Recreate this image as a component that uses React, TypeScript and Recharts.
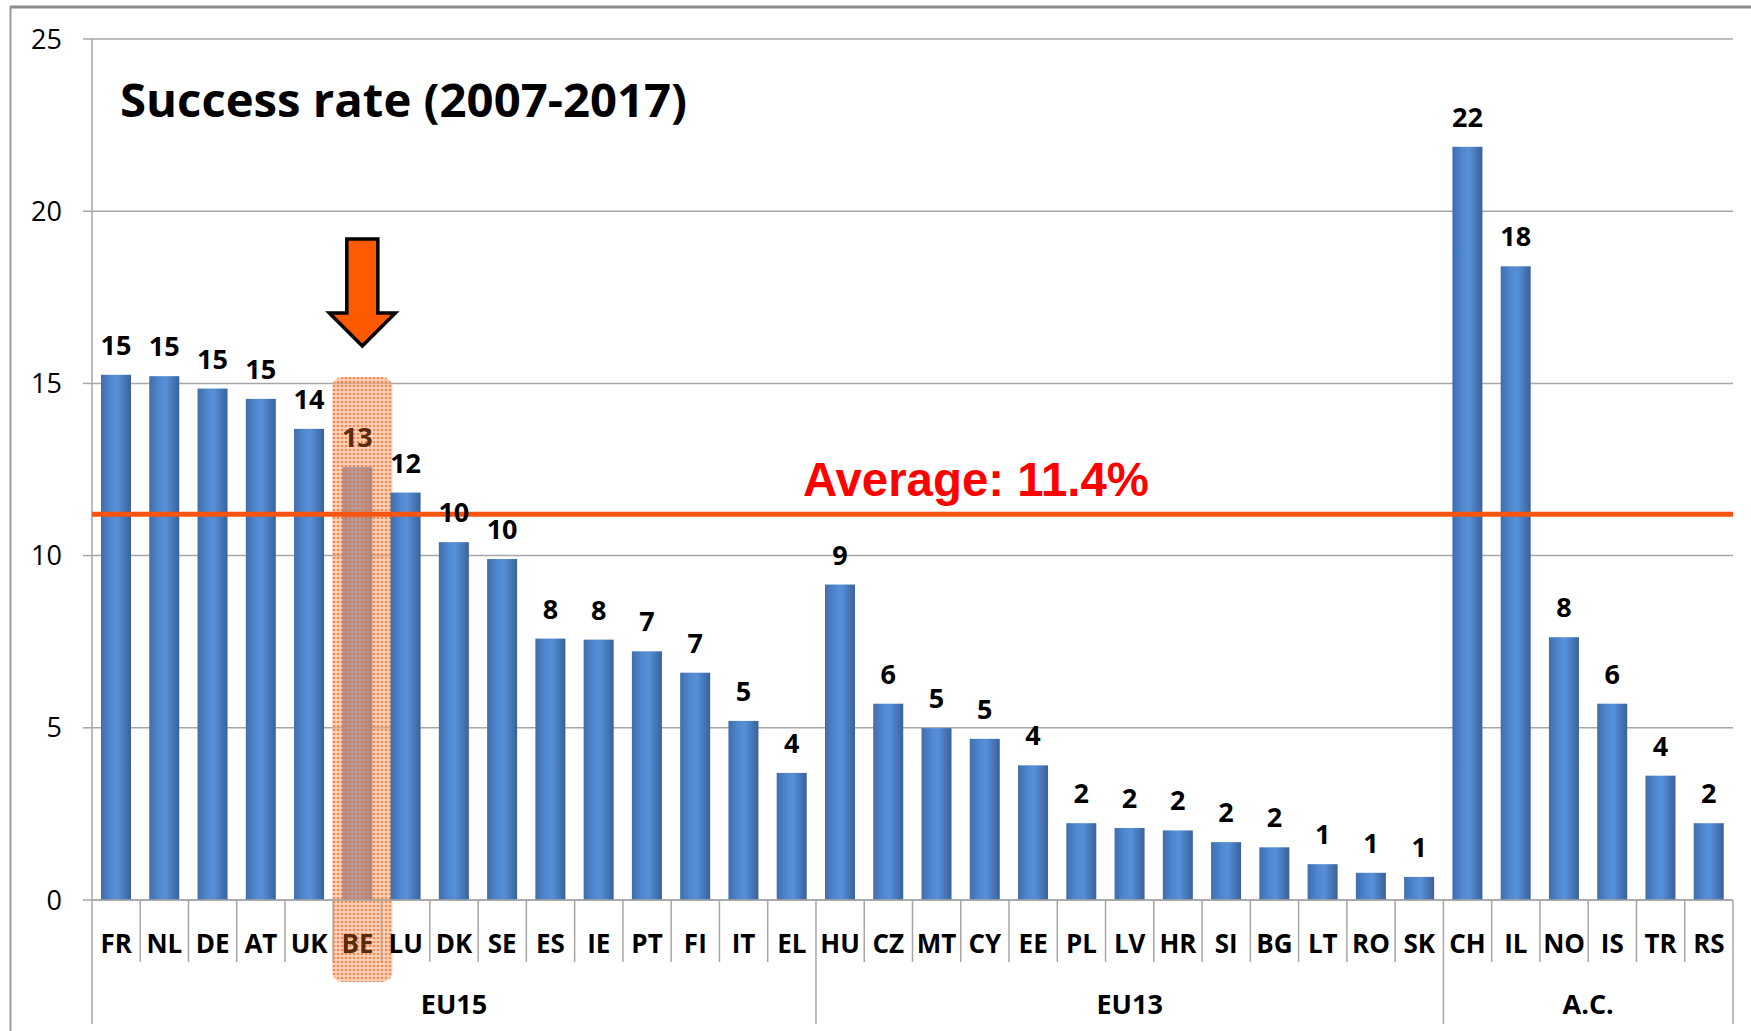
import { BarChart, Bar, XAxis, YAxis, CartesianGrid, ReferenceLine, LabelList } from "recharts";

// country codes in display order, grouped EU15 / EU13 / associated countries
const codes = [
  "FR", "NL", "DE", "AT", "UK", "BE", "LU", "DK", "SE", "ES", "IE", "PT", "FI", "IT", "EL",
  "HU", "CZ", "MT", "CY", "EE", "PL", "LV", "HR", "SI", "BG", "LT", "RO", "SK",
  "CH", "IL", "NO", "IS", "TR", "RS",
];
const rates = [
  15.25, 15.21, 14.85, 14.55, 13.68, 12.57, 11.83, 10.39, 9.9, 7.59, 7.56, 7.22, 6.6, 5.2, 3.69,
  9.16, 5.7, 4.99, 4.68, 3.91, 2.23, 2.09, 2.02, 1.68, 1.53, 1.04, 0.79, 0.67,
  21.87, 18.4, 7.63, 5.7, 3.61, 2.23,
];
const groupNames = ["EU15", "EU13", "A.C."];
const groupSizes = [15, 13, 6];
const yTicks = [0, 5, 10, 15, 20, 25];
const highlightCode = "BE";
const averageLevel = 11.2;
const averageText = "Average: 11.4%";
const titleText = "Success rate (2007-2017)";

const W = 1751;
const H = 1031;
const MARGIN = { top: 39, right: 18, left: 12, bottom: 0 };
const Y_AXIS_W = 80;
const X_AXIS_H = 131;
const BAND = (W - MARGIN.left - MARGIN.right - Y_AXIS_W) / codes.length;
const FONT = "'Open Sans', 'Noto Sans', sans-serif";
const GRID = "#a6a6a6";
const BROWN = "#5a2a0c";

const data = codes.map((code, i) => ({ code, rate: rates[i] }));

const groupStarts = groupSizes.map((_, i) => groupSizes.slice(0, i).reduce((a, b) => a + b, 0));

function CategoryTick(props: any) {
  const { x, y, payload } = props;
  const i = codes.indexOf(payload.value);
  const half = BAND / 2;
  const g = groupStarts.findIndex((s, k) => i >= s && i < s + groupSizes[k]);
  const isFirst = i === groupStarts[g];
  const isLast = i === groupStarts[g] + groupSizes[g] - 1;
  return (
    <g>
      {i === 0 && <line x1={x - half} x2={x - half} y1={y} y2={y + 124} stroke={GRID} strokeWidth={1.5} />}
      <line x1={x + half} x2={x + half} y1={y} y2={y + (isLast ? 124 : 62)} stroke={GRID} strokeWidth={1.5} />
      <text x={x} y={y + 53} textAnchor="middle" fontFamily={FONT} fontWeight={700} fontSize={26}
        fill={payload.value === highlightCode ? BROWN : "#000"}>
        {payload.value}
      </text>
      {isFirst && (
        <text x={x - half + (groupSizes[g] * BAND) / 2} y={y + 114} textAnchor="middle"
          fontFamily={FONT} fontWeight={700} fontSize={27} fill="#000">
          {groupNames[g]}
        </text>
      )}
    </g>
  );
}

function BarShape(props: any) {
  const { x, y, width, height, index } = props;
  const bar = <rect x={x} y={y} width={width} height={height} fill="url(#barGrad)" />;
  if (codes[index] !== highlightCode) return bar;
  const cx = x + width / 2 + 5;
  const base = y + height;
  const tip = y - 121;
  return (
    <g>
      {bar}
      <rect x={cx - 30} y={y - 90} width={60} height={base - y + 172} rx={10} ry={10}
        fill="url(#hlDots)" />
      <path
        d={`M${cx - 15.5},${tip - 107} L${cx + 15.5},${tip - 107} L${cx + 15.5},${tip - 33} L${cx + 33},${tip - 33} L${cx},${tip} L${cx - 33},${tip - 33} L${cx - 15.5},${tip - 33} Z`}
        fill="#ff5a00" stroke="#000" strokeWidth={3.5} strokeLinejoin="miter" />
    </g>
  );
}

function ValueLabel(props: any) {
  const vb = props.viewBox || props;
  const cx = vb.x + vb.width / 2;
  const code = codes[props.index];
  return (
    <text x={cx} y={vb.y - 20} textAnchor="middle" fontFamily={FONT} fontWeight={700} fontSize={27}
      fill={code === highlightCode ? BROWN : "#000"}>
      {Math.round(Number(props.value))}
    </text>
  );
}

function AverageLabel(props: any) {
  const vb = props.viewBox;
  return (
    <text x={vb.x + 711} y={vb.y - 18} fontFamily="'Liberation Sans', Arial, sans-serif" fontWeight={700}
      fontSize={48} fill="#ff0000" textLength={346} lengthAdjust="spacingAndGlyphs">
      {averageText}
    </text>
  );
}

export default function App() {
  return (
    <div style={{ position: "absolute", left: 0, top: 0, width: W, height: H, background: "#fff" }}>
      <BarChart width={W} height={H} data={data} margin={MARGIN} barSize={30}>
        <defs>
          <linearGradient id="barGrad" x1="0" y1="0" x2="1" y2="0">
            <stop offset="0%" stopColor="#3f6ead" />
            <stop offset="35%" stopColor="#5189d1" />
            <stop offset="55%" stopColor="#5690d8" />
            <stop offset="100%" stopColor="#3a619a" />
          </linearGradient>
          <pattern id="hlDots" width="4" height="4" patternUnits="userSpaceOnUse">
            <rect width="4" height="4" fill="#f9ad82" fillOpacity={0.55} />
            <circle cx="2" cy="2" r="1.3" fill="#f26a22" fillOpacity={0.7} />
          </pattern>
        </defs>
        <CartesianGrid vertical={false} stroke={GRID} strokeWidth={1.5} />
        <XAxis dataKey="code" height={X_AXIS_H} interval={0} tickLine={false} tickSize={0} tickMargin={0}
          axisLine={{ stroke: GRID, strokeWidth: 1.5 }} tick={(p: any) => <CategoryTick {...p} />} />
        <YAxis domain={[0, 25]} ticks={yTicks} width={Y_AXIS_W} tickSize={9} tickMargin={21} interval={0}
          axisLine={{ stroke: GRID, strokeWidth: 1.5 }} tickLine={{ stroke: GRID, strokeWidth: 1.5 }}
          tick={{ fontSize: 27, fill: "#000", fontFamily: FONT }} />
        <Bar dataKey="rate" shape={(p: any) => <BarShape {...p} />} isAnimationActive={false}>
          <LabelList dataKey="rate" content={(p: any) => <ValueLabel {...p} />} />
        </Bar>
        <ReferenceLine y={averageLevel} stroke="#f75410" strokeWidth={5} zIndex={1000}
          label={(p: any) => <AverageLabel {...p} />} />
      </BarChart>
      <svg width={W} height={H} style={{ position: "absolute", left: 0, top: 0, pointerEvents: "none" }}>
        <line x1={10} y1={7} x2={W} y2={7} stroke="#8c8c8c" strokeWidth={3} />
        <line x1={10.5} y1={6} x2={10.5} y2={H} stroke="#9a9a9a" strokeWidth={2} />
        <text x={120} y={117} fontFamily={FONT} fontWeight={700} fontSize={47} fill="#000"
          textLength={567} lengthAdjust="spacingAndGlyphs">
          {titleText}
        </text>
      </svg>
    </div>
  );
}
